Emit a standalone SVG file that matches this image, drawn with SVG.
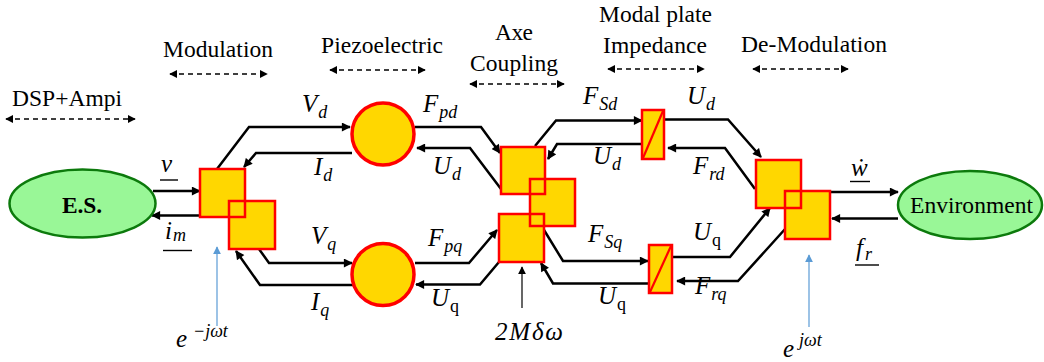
<svg xmlns="http://www.w3.org/2000/svg" width="1044" height="362" viewBox="0 0 1044 362">
<defs>
<style>
.conn{fill:none;stroke:#000;stroke-width:2.5;stroke-linejoin:miter;marker-end:url(#ah)}
.dash{fill:none;stroke:#000;stroke-width:1.6;stroke-dasharray:5 4;marker-start:url(#dh);marker-end:url(#dh)}
.blue{fill:none;stroke:#5B9BD5;stroke-width:1.2;marker-end:url(#bh)}
.thin{fill:none;stroke:#000;stroke-width:1.2;marker-end:url(#th)}
.bf{fill:#FFD700;stroke:none}
.bs{fill:none;stroke:#FF0000;stroke-width:2.5}
.circ{fill:#FFD700;stroke:#FF0000;stroke-width:3.5}
.ell{fill:#99F797;stroke:#0C7A0C;stroke-width:2.5}
.t{font-family:Liberation Serif,Times New Roman,Times,DejaVu Serif,serif;font-size:23.5px;fill:#000}
.m{font-family:Liberation Serif,Times New Roman,Times,DejaVu Serif,serif;font-style:italic;font-size:25px;fill:#000}
.s{font-size:18px}
.r{font-style:normal}
.ul{stroke:#000;stroke-width:1.4}
</style>
<marker id="ah" viewBox="0 0 10 10" refX="9" refY="5" markerWidth="10" markerHeight="9" markerUnits="userSpaceOnUse" orient="auto"><path d="M0,0 L10,5 L0,10 z" fill="#000"/></marker>
<marker id="dh" viewBox="0 0 10 10" refX="9" refY="5" markerWidth="8" markerHeight="8" markerUnits="userSpaceOnUse" orient="auto-start-reverse"><path d="M0,0 L10,5 L0,10 z" fill="#000"/></marker>
<marker id="bh" viewBox="0 0 10 10" refX="9" refY="5" markerWidth="8" markerHeight="9" markerUnits="userSpaceOnUse" orient="auto"><path d="M0,0 L10,5 L0,10 z" fill="#5B9BD5"/></marker>
<marker id="th" viewBox="0 0 10 10" refX="9" refY="5" markerWidth="8" markerHeight="8" markerUnits="userSpaceOnUse" orient="auto"><path d="M0,0 L10,5 L0,10 z" fill="#000"/></marker>
</defs>
<rect width="1044" height="362" fill="#fff"/>

<g id="section-labels">
<text class="t" x="12" y="106" textLength="110">DSP+Ampi</text>
<path class="dash" d="M6,119 L135,119"/>
<text class="t" x="163" y="57" textLength="110">Modulation</text>
<path class="dash" d="M170,74 L267,74"/>
<text class="t" x="321" y="53" textLength="122">Piezoelectric</text>
<path class="dash" d="M330,70 L425,70"/>
<text class="t" x="495" y="40" textLength="38">Axe</text>
<text class="t" x="470" y="71" textLength="88">Coupling</text>
<path class="dash" d="M470,84 L564,84"/>
<text class="t" x="599" y="22" textLength="113">Modal plate</text>
<text class="t" x="603" y="53" textLength="104">Impedance</text>
<path class="dash" d="M608,69 L704,69"/>
<text class="t" x="741" y="52" textLength="146">De-Modulation</text>
<path class="dash" d="M753,69 L848,69"/>
</g>

<g id="connectors">
<path class="conn" d="M153,191 L200,191"/>
<path class="conn" d="M200,215.5 L152,215.5"/>
<path class="conn" d="M217,169 L249,127 L350,127"/>
<path class="conn" d="M352,153 L256,153 L244,167"/>
<path class="conn" d="M259,249 L269,263 L352,263"/>
<path class="conn" d="M354,285 L260,285 L236,251"/>
<path class="conn" d="M415,127 L481,127 L500,153"/>
<path class="conn" d="M501,189 L470,148 L417,148"/>
<path class="conn" d="M415,263 L469,263 L497,230"/>
<path class="conn" d="M499,262 L480,284.5 L416,284.5"/>
<path class="conn" d="M535,146 L556,120.5 L642,120.5"/>
<path class="conn" d="M642,144 L557,144 L548,159"/>
<path class="conn" d="M544,230 L563,261 L648,261"/>
<path class="conn" d="M649,283.5 L553,283.5 L541,263"/>
<path class="conn" d="M664,119.5 L728,119.5 L761,157"/>
<path class="conn" d="M755,189 L725,148 L668,148"/>
<path class="conn" d="M672,257 L730,257 L770,208"/>
<path class="conn" d="M786,228 L738,281 L677,281"/>
<path class="conn" d="M830,192 L898,192"/>
<path class="conn" d="M898,218.5 L832,218.5"/>
<path class="blue" d="M217,326 L217,247"/>
<path class="blue" d="M809,327 L809,255"/>
<path class="thin" d="M522,308 L522,267"/>
</g>

<g id="es">
<ellipse class="ell" cx="82.5" cy="203.5" rx="73" ry="34"/>
<text class="t" x="62" y="213" textLength="40" font-weight="bold" font-size="23px">E.S.</text>
</g>

<g id="environment">
<ellipse class="ell" cx="970" cy="205" rx="72" ry="34"/>
<text class="t" x="910" y="213" textLength="123">Environment</text>
</g>

<g id="modulation">
<rect class="bf" x="200" y="169" width="45" height="48"/>
<rect class="bf" x="229" y="201" width="46" height="48"/>
<rect class="bs" x="200" y="169" width="45" height="48"/>
<rect class="bs" x="229" y="201" width="46" height="48"/>
</g>

<g id="piezo-d"><circle class="circ" cx="383" cy="134" r="31"/></g>
<g id="piezo-q"><circle class="circ" cx="383" cy="274.5" r="31"/></g>

<g id="axe-coupling">
<rect class="bf" x="501" y="147" width="44" height="47"/>
<rect class="bf" x="530" y="179" width="45" height="47"/>
<rect class="bf" x="499" y="214" width="45" height="48"/>
<rect class="bs" x="501" y="147" width="44" height="47"/>
<rect class="bs" x="530" y="179" width="45" height="47"/>
<rect class="bs" x="499" y="214" width="45" height="48"/>
</g>

<g id="impedance-d">
<rect class="bf" x="642" y="110" width="22" height="49"/>
<rect class="bs" x="642" y="110" width="22" height="49"/>
<line x1="643" y1="158" x2="663" y2="111" stroke="#FF0000" stroke-width="2.2"/>
</g>
<g id="impedance-q">
<rect class="bf" x="649" y="245" width="23" height="48"/>
<rect class="bs" x="649" y="245" width="23" height="48"/>
<line x1="650" y1="292" x2="671" y2="246" stroke="#FF0000" stroke-width="2.2"/>
</g>

<g id="demodulation">
<rect class="bf" x="756" y="160" width="45" height="48"/>
<rect class="bf" x="785" y="191" width="45" height="48"/>
<rect class="bs" x="756" y="160" width="45" height="48"/>
<rect class="bs" x="785" y="191" width="45" height="48"/>
</g>

<g id="signal-labels">
<text class="m" x="161" y="172">v</text>
<line class="ul" x1="160" y1="180" x2="178" y2="180"/>
<text class="m" x="165" y="239">i<tspan class="s" dx="1" dy="2">m</tspan></text>
<line class="ul" x1="163" y1="250.5" x2="192" y2="250.5"/>
<text class="m" x="302" y="112">V<tspan class="s" dx="1" dy="6">d</tspan></text>
<text class="m" x="314" y="175">I<tspan class="s" dx="1" dy="6">d</tspan></text>
<text class="m" x="311" y="244">V<tspan class="s" dx="1" dy="6">q</tspan></text>
<text class="m" x="311" y="310">I<tspan class="s" dx="1" dy="6">q</tspan></text>
<text class="m" x="423" y="112">F<tspan class="s" dx="1" dy="6">pd</tspan></text>
<text class="m" x="433" y="174">U<tspan class="s" dx="1" dy="6">d</tspan></text>
<text class="m" x="428" y="246">F<tspan class="s" dx="1" dy="6">pq</tspan></text>
<text class="m" x="431" y="306">U<tspan class="s r" dx="1" dy="6">q</tspan></text>
<text class="m" x="583" y="104">F<tspan class="s" dx="1" dy="6">Sd</tspan></text>
<text class="m" x="593" y="164">U<tspan class="s" dx="1" dy="6">d</tspan></text>
<text class="m" x="588" y="242">F<tspan class="s" dx="1" dy="6">Sq</tspan></text>
<text class="m" x="598" y="304">U<tspan class="s r" dx="1" dy="6">q</tspan></text>
<text class="m" x="687" y="104">U<tspan class="s" dx="1" dy="6">d</tspan></text>
<text class="m" x="693" y="174">F<tspan class="s" dx="1" dy="6">rd</tspan></text>
<text class="m" x="693" y="240">U<tspan class="s r" dx="1" dy="6">q</tspan></text>
<text class="m" x="695" y="294">F<tspan class="s" dx="1" dy="6">rq</tspan></text>
<text class="m" x="851" y="176">ẇ</text>
<line class="ul" x1="850" y1="181.5" x2="870" y2="181.5"/>
<text class="m" x="856" y="256">f<tspan class="s" dx="2" dy="4">r</tspan></text>
<line class="ul" x1="855" y1="265" x2="879" y2="265"/>
<text class="m" x="495" y="340" textLength="68">2Mδω</text>
<text class="m" x="176" y="347">e<tspan class="s" x="193" dy="-10">−jωt</tspan></text>
<text class="m" x="783" y="357">e<tspan class="s" x="799" dy="-11">jωt</tspan></text>
</g>
</svg>
